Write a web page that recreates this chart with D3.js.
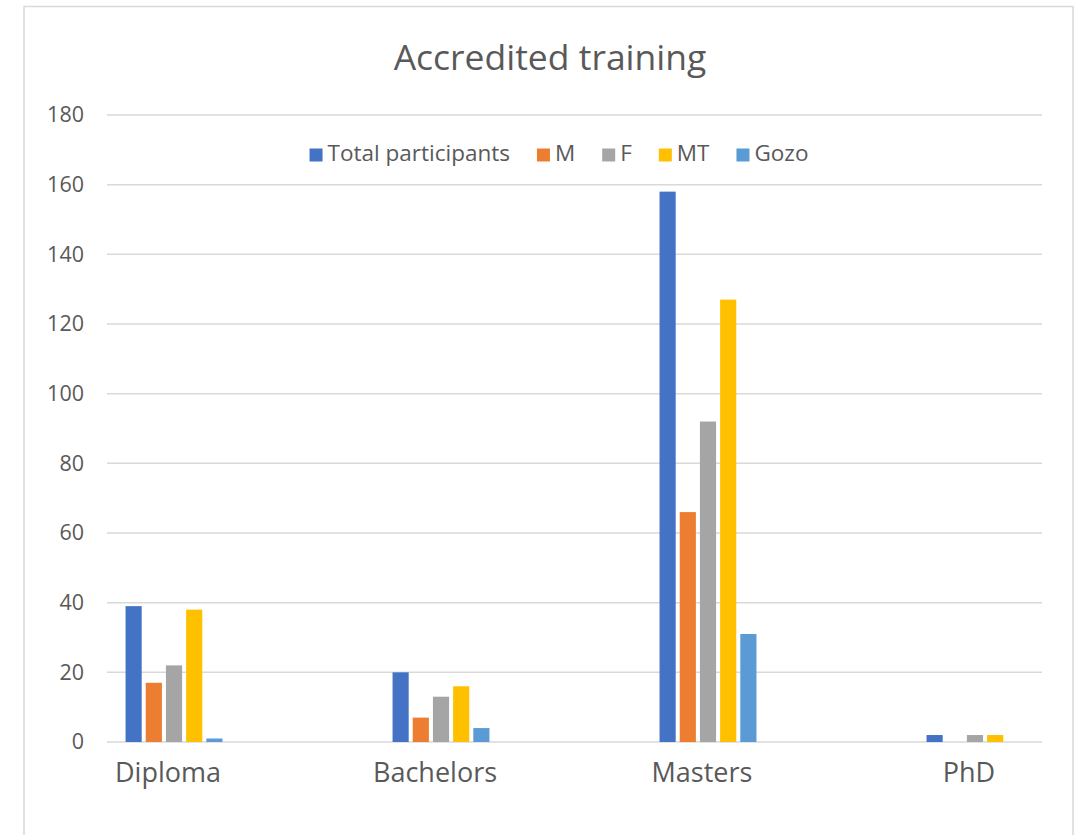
<!DOCTYPE html>
<html>
<head>
<meta charset="utf-8">
<script src="https://cdn.jsdelivr.net/npm/d3@7"></script>
<style>
  html, body { margin: 0; padding: 0; background: #ffffff; }
  svg { display: block; }
  text { font-family: "Open Sans", "Noto Sans", sans-serif; fill: #595959; }
</style>
</head>
<body>
<svg id="chart" width="1081" height="835"></svg>
<script>
const title = "Accredited training";
const categories = ["Diploma", "Bachelors", "Masters", "PhD"];
const seriesNames = ["Total participants", "M", "F", "MT", "Gozo"];
const seriesColors = ["#4472C4", "#ED7D31", "#A5A5A5", "#FFC000", "#5B9BD5"];
const totalParticipants = [39, 20, 158, 2];
const male = [17, 7, 66, 0];
const female = [22, 13, 92, 2];
const mt = [38, 16, 127, 2];
const gozo = [1, 4, 31, 0];
const yTicks = [0, 20, 40, 60, 80, 100, 120, 140, 160, 180];

const seriesValues = [totalParticipants, male, female, mt, gozo];

const svg = d3.select("#chart");

// chart-area border (spreadsheet frame)
svg.append("path")
  .attr("d", "M24,835 L24,6.5 L1073,6.5 L1073,835")
  .attr("fill", "none")
  .attr("stroke", "#d9d9d9")
  .attr("stroke-width", 1.5);

const plot = { left: 107, right: 1042, top: 115, bottom: 742 };

const x0 = d3.scaleBand()
  .domain(categories)
  .range([plot.left, plot.right])
  .paddingInner(0.637)
  .paddingOuter(0.0695);

const x1 = d3.scaleBand()
  .domain(seriesNames)
  .range([0, x0.bandwidth()])
  .paddingInner(0.2)
  .paddingOuter(0);

const y = d3.scaleLinear()
  .domain([0, 180])
  .range([plot.bottom, plot.top]);

// gridlines
svg.append("g")
  .selectAll("line")
  .data(yTicks)
  .join("line")
  .attr("x1", plot.left)
  .attr("x2", plot.right)
  .attr("y1", d => y(d))
  .attr("y2", d => y(d))
  .attr("stroke", "#d9d9d9")
  .attr("stroke-width", 1.5);

// y axis labels
const yAxis = d3.axisLeft(y).tickValues(yTicks).tickSize(0).tickPadding(0);
const gy = svg.append("g")
  .attr("transform", `translate(84,0)`)
  .call(yAxis);
gy.select(".domain").remove();
gy.selectAll("text")
  .attr("font-size", 21.5)
  .attr("font-family", "Open Sans")
  .attr("fill", "#595959");

// bars
const rows = categories.map((c, i) => ({ cat: c, vals: seriesNames.map((s, j) => ({ s, j, v: seriesValues[j][i] })) }));
const groups = svg.append("g")
  .selectAll("g")
  .data(rows)
  .join("g")
  .attr("transform", d => `translate(${x0(d.cat)},0)`);
groups.selectAll("rect")
  .data(d => d.vals.filter(e => e.v > 0))
  .join("rect")
  .attr("x", d => x1(d.s))
  .attr("width", x1.bandwidth())
  .attr("y", d => y(d.v))
  .attr("height", d => y(0) - y(d.v))
  .attr("fill", d => seriesColors[d.j]);

// x axis labels
const xAxis = d3.axisBottom(x0).tickSize(0).tickPadding(0);
const gx = svg.append("g")
  .attr("transform", `translate(-6,${plot.bottom})`)
  .call(xAxis);
gx.select(".domain").remove();
gx.selectAll("text")
  .attr("font-size", 27)
  .attr("font-family", "Open Sans")
  .attr("fill", "#595959")
  .attr("dy", null)
  .attr("y", 40);

// title
svg.append("text")
  .attr("x", 550)
  .attr("y", 70)
  .attr("text-anchor", "middle")
  .attr("font-size", 35.5)
  .text(title);

// legend
const legend = svg.append("g");
let cx = 0;
seriesNames.forEach((name, i) => {
  const item = legend.append("g").attr("transform", `translate(${cx},0)`);
  item.append("rect")
    .attr("x", 0).attr("y", -12.5)
    .attr("width", 13).attr("height", 13)
    .attr("fill", seriesColors[i]);
  const t = item.append("text")
    .attr("x", 18).attr("y", 0)
    .attr("font-size", 22.5)
    .text(name);
  const w = t.node().getComputedTextLength();
  cx += 18 + w + 27;
});
const legendWidth = cx - 27;
legend.attr("transform", `translate(${559 - legendWidth / 2},161)`);
</script>
</body>
</html>
